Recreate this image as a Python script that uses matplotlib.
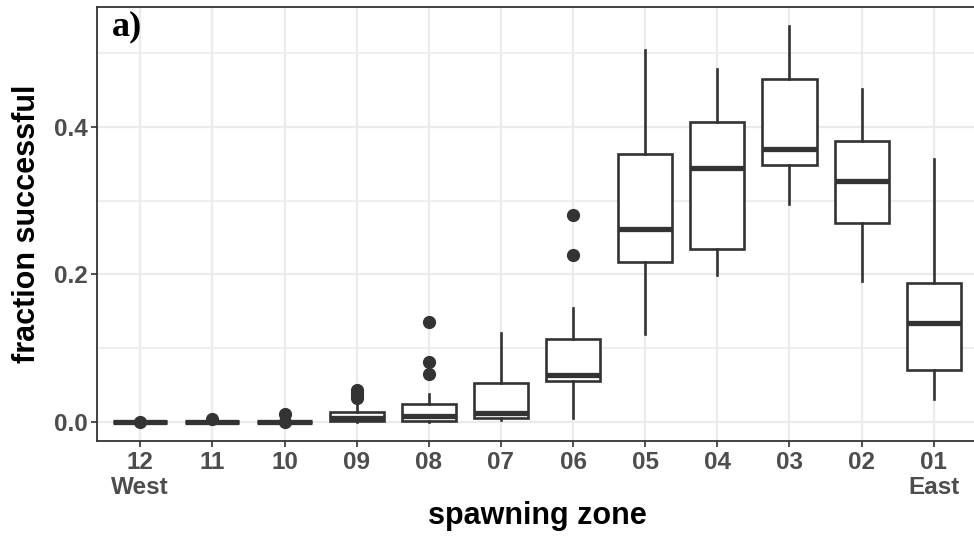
import numpy as np
import matplotlib.pyplot as plt
from matplotlib.ticker import MultipleLocator

# data
zones = ['12', '11', '10', '09', '08', '07', '06', '05', '04', '03', '02', '01']
tick_labels = ['12\nWest', '11', '10', '09', '08', '07', '06', '05', '04', '03', '02', '01\nEast']

whislo = [0.0, 0.0, 0.0, 0.0, 0.0, 0.002, 0.005, 0.119, 0.199, 0.296, 0.191, 0.031]
q1     = [0.0, 0.0, 0.0, 0.0007, 0.001, 0.005, 0.056, 0.217, 0.235, 0.349, 0.270, 0.071]
med    = [0.0, 0.0, 0.0, 0.005, 0.008, 0.012, 0.064, 0.262, 0.345, 0.370, 0.327, 0.134]
q3     = [0.0, 0.0, 0.0, 0.013, 0.024, 0.053, 0.113, 0.363, 0.407, 0.465, 0.381, 0.189]
whishi = [0.0, 0.0, 0.0, 0.023, 0.038, 0.121, 0.154, 0.504, 0.479, 0.537, 0.452, 0.356]
fliers = [[0.0], [0.004], [0.0, 0.0104], [0.032, 0.036, 0.040, 0.044], [0.065, 0.081, 0.135],
          [], [0.226, 0.280], [], [], [], [], []]

stats = []
for i in range(len(zones)):
    stats.append(dict(label=zones[i], whislo=whislo[i], q1=q1[i], med=med[i],
                      q3=q3[i], whishi=whishi[i], fliers=fliers[i]))

dark = '#333333'
grey = '#4D4D4D'

fig = plt.figure(figsize=(9.74, 5.4), dpi=100)
ax = fig.add_axes([97/974, 99/540, 880/974, 434/540])

pos = np.arange(1, len(zones) + 1)
ax.bxp(stats, positions=pos, widths=0.75, patch_artist=True, showcaps=False,
       boxprops=dict(facecolor='white', edgecolor=dark, linewidth=1.9),
       whiskerprops=dict(color=dark, linewidth=1.9),
       medianprops=dict(color=dark, linewidth=3.8, solid_capstyle='butt'),
       flierprops=dict(marker='o', markerfacecolor=dark, markeredgecolor=dark, markersize=8.5),
       zorder=3)

ax.set_xlim(0.4, 12.6)
ax.set_xticks(pos)
ax.set_xticklabels(tick_labels)
ax.yaxis.set_major_locator(MultipleLocator(0.2))
ax.yaxis.set_minor_locator(MultipleLocator(0.1))
ax.set_ylim(-0.0258, 0.5627)
ax.set_yticks([0.0, 0.2, 0.4])
ax.set_yticklabels(['0.0', '0.2', '0.4'])

# ggplot theme_bw look
ax.grid(True, which='major', color='#EBEBEB', linewidth=1.6, zorder=0)
ax.grid(True, which='minor', axis='y', color='#EBEBEB', linewidth=1.2, zorder=0)
ax.set_axisbelow(True)
for s in ax.spines.values():
    s.set_color(dark)
    s.set_linewidth(1.3)

ax.tick_params(axis='both', which='major', length=4, width=1.2, color=dark,
               labelcolor=grey, labelsize=17.5, pad=3)
ax.tick_params(axis='y', which='minor', length=0)
for lab in ax.get_xticklabels() + ax.get_yticklabels():
    lab.set_fontfamily('Liberation Sans')
    lab.set_fontweight('bold')
    lab.set_linespacing(1.1)

ax.set_xlabel('spawning zone', fontsize=22, fontweight='bold', family='Liberation Sans', labelpad=2)
ax.set_ylabel('fraction successful', fontsize=22, fontweight='bold', family='Liberation Sans', labelpad=8)

ax.text(0.017, 0.935, 'a)', transform=ax.transAxes, fontsize=26, fontweight='bold',
        family='Liberation Serif', va='baseline', ha='left')

plt.savefig('out.png', dpi=100)
